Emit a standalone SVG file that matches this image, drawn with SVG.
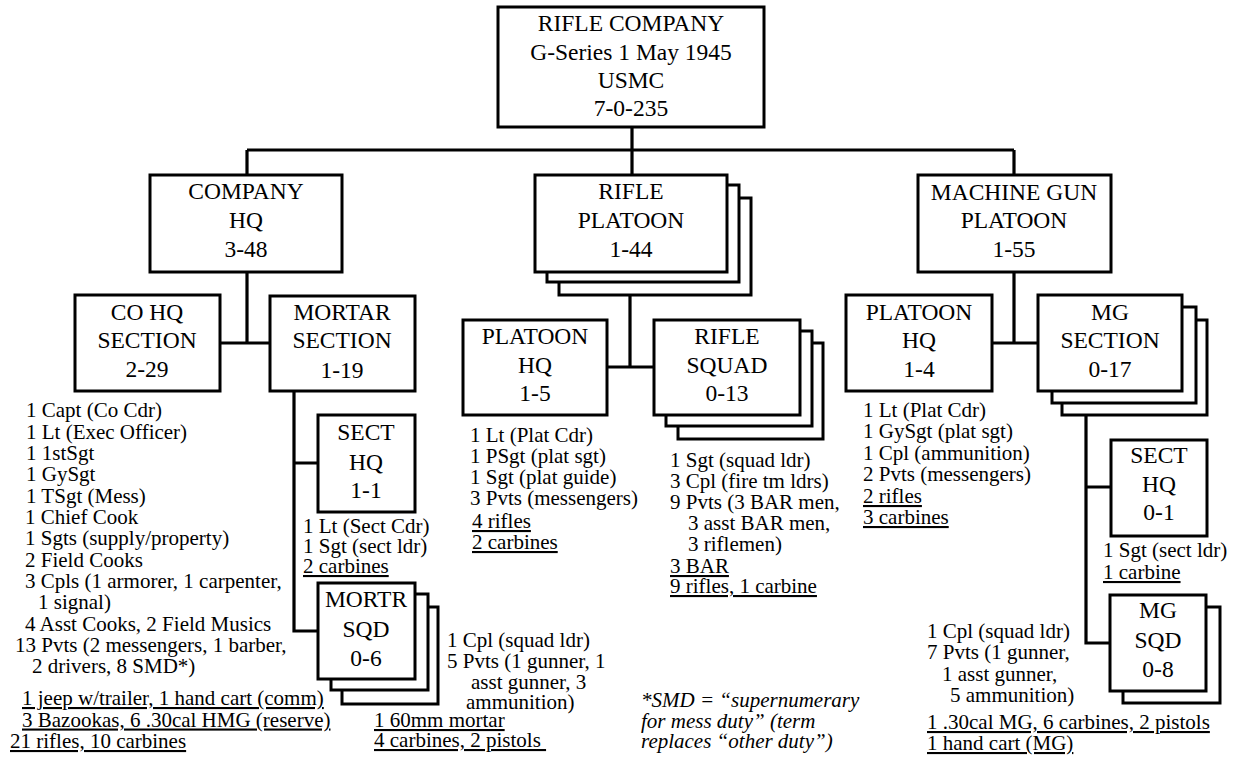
<svg xmlns="http://www.w3.org/2000/svg" width="1238" height="757" viewBox="0 0 1238 757" font-family="Liberation Serif, Times New Roman, DejaVu Serif, serif">
<style>
.box{fill:#fff;stroke:#000;stroke-width:3}
.ln{fill:none;stroke:#000;stroke-width:3.2}
.nt{font-family:'Liberation Serif','Times New Roman','DejaVu Serif',serif;font-size:23.5px;text-anchor:middle;fill:#000}
.lt{font-family:'Liberation Serif','Times New Roman','DejaVu Serif',serif;font-size:21px;fill:#000}
.u{text-decoration:underline}
.it{font-style:italic}
</style>
<rect width="1238" height="757" fill="#fff"/>
<g id="connectors">
<path class="ln" d="M632 127V150M247 150H1014M247 150V175M632 150V175M1014 150V175"/>
<path class="ln" d="M247 272V343M220 343H270"/>
<path class="ln" d="M294 391V631H318M294 463H318"/>
<path class="ln" d="M630 272V367M607 367H654"/>
<path class="ln" d="M1014 272V343M992 343H1038"/>
<path class="ln" d="M1086 415V643H1110M1086 487H1111"/>
</g>
<g id="rifle-company">
<rect class="box" x="498" y="7" width="266" height="120"/>
<text class="nt" x="631" y="31">RIFLE COMPANY</text>
<text class="nt" x="631" y="60">G-Series 1 May 1945</text>
<text class="nt" x="631" y="88">USMC</text>
<text class="nt" x="631" y="116">7-0-235</text>
</g>
<g id="company-hq">
<rect class="box" x="150" y="175" width="192" height="97"/>
<text class="nt" x="246" y="199">COMPANY</text>
<text class="nt" x="246" y="228">HQ</text>
<text class="nt" x="246" y="257">3-48</text>
</g>
<g id="rifle-platoon">
<rect class="box" x="559" y="198" width="192" height="97"/>
<rect class="box" x="547" y="185" width="192" height="97"/>
<rect class="box" x="535" y="175" width="192" height="97"/>
<text class="nt" x="631" y="199">RIFLE</text>
<text class="nt" x="631" y="228">PLATOON</text>
<text class="nt" x="631" y="257">1-44</text>
</g>
<g id="mg-platoon">
<rect class="box" x="918" y="175" width="193" height="97"/>
<text class="nt" x="1014" y="200">MACHINE GUN</text>
<text class="nt" x="1014" y="228">PLATOON</text>
<text class="nt" x="1014" y="257">1-55</text>
</g>
<g id="co-hq-section">
<rect class="box" x="75" y="295" width="145" height="96"/>
<text class="nt" x="147" y="320">CO HQ</text>
<text class="nt" x="147" y="348">SECTION</text>
<text class="nt" x="147" y="377">2-29</text>
</g>
<g id="co-hq-list">
<text class="lt" x="26" y="417">1 Capt (Co Cdr)</text>
<text class="lt" x="26" y="438.5">1 Lt (Exec Officer)</text>
<text class="lt" x="26" y="460">1 1stSgt</text>
<text class="lt" x="26" y="481">1 GySgt</text>
<text class="lt" x="26" y="502.5">1 TSgt (Mess)</text>
<text class="lt" x="25" y="524">1 Chief Cook</text>
<text class="lt" x="25" y="545">1 Sgts (supply/property)</text>
<text class="lt" x="25" y="566.5">2 Field Cooks</text>
<text class="lt" x="25" y="588">3 Cpls (1 armorer, 1 carpenter,</text>
<text class="lt" x="38" y="609">1 signal)</text>
<text class="lt" x="25" y="630.5">4 Asst Cooks, 2 Field Musics</text>
<text class="lt" x="15" y="652">13 Pvts (2 messengers, 1 barber,</text>
<text class="lt" x="32" y="673">2 drivers, 8 SMD*)</text>
<text class="lt u" x="22" y="705">1 jeep w/trailer, 1 hand cart (comm)</text>
<text class="lt u" x="22" y="726.5">3 Bazookas, 6 .30cal HMG (reserve)</text>
<text class="lt u" x="10" y="748">21 rifles, 10 carbines</text>
</g>
<g id="mortar-section">
<rect class="box" x="270" y="296" width="145" height="95"/>
<text class="nt" x="342" y="320">MORTAR</text>
<text class="nt" x="342" y="348">SECTION</text>
<text class="nt" x="342" y="378">1-19</text>
</g>
<g id="mortar-sect-hq">
<rect class="box" x="318" y="415" width="97" height="97"/>
<text class="nt" x="366" y="440">SECT</text>
<text class="nt" x="366" y="470">HQ</text>
<text class="nt" x="366" y="498">1-1</text>
<text class="lt" x="303" y="533">1 Lt (Sect Cdr)</text>
<text class="lt" x="303" y="553">1 Sgt (sect ldr)</text>
<text class="lt u" x="303" y="573">2 carbines</text>
</g>
<g id="mortar-squad">
<rect class="box" x="342" y="607" width="96" height="97"/>
<rect class="box" x="331" y="594" width="97" height="96"/>
<rect class="box" x="318" y="583" width="97" height="96"/>
<text class="nt" x="366" y="607">MORTR</text>
<text class="nt" x="366" y="637">SQD</text>
<text class="nt" x="366" y="666">0-6</text>
<text class="lt" x="447" y="647">1 Cpl (squad ldr)</text>
<text class="lt" x="447" y="668">5 Pvts (1 gunner, 1</text>
<text class="lt" x="471" y="689">asst gunner, 3</text>
<text class="lt" x="466" y="709">ammunition)</text>
<text class="lt u" x="374" y="727">1 60mm mortar</text>
<text class="lt u" x="374" y="747">4 carbines, 2 pistols&#160;</text>
</g>
<g id="platoon-hq">
<rect class="box" x="463" y="320" width="144" height="95"/>
<text class="nt" x="535" y="344">PLATOON</text>
<text class="nt" x="535" y="373">HQ</text>
<text class="nt" x="535" y="401">1-5</text>
<text class="lt" x="470" y="442">1 Lt (Plat Cdr)</text>
<text class="lt" x="470" y="463">1 PSgt (plat sgt)</text>
<text class="lt" x="470" y="484">1 Sgt (plat guide)</text>
<text class="lt" x="470" y="505">3 Pvts (messengers)</text>
<text class="lt u" x="472" y="528">4 rifles</text>
<text class="lt u" x="472" y="549">2 carbines</text>
</g>
<g id="rifle-squad">
<rect class="box" x="678" y="343" width="145" height="96"/>
<rect class="box" x="666" y="331" width="146" height="95"/>
<rect class="box" x="654" y="320" width="146" height="95"/>
<text class="nt" x="727" y="344">RIFLE</text>
<text class="nt" x="727" y="373">SQUAD</text>
<text class="nt" x="727" y="401">0-13</text>
<text class="lt" x="670" y="467">1 Sgt (squad ldr)</text>
<text class="lt" x="670" y="488">3 Cpl (fire tm ldrs)</text>
<text class="lt" x="670" y="509">9 Pvts (3 BAR men,</text>
<text class="lt" x="688" y="530">3 asst BAR men,</text>
<text class="lt" x="688" y="551">3 riflemen)</text>
<text class="lt u" x="670" y="573">3 BAR</text>
<text class="lt u" x="670" y="593">9 rifles, 1 carbine</text>
</g>
<g id="mg-platoon-hq">
<rect class="box" x="846" y="295" width="146" height="96"/>
<text class="nt" x="919" y="320">PLATOON</text>
<text class="nt" x="919" y="348">HQ</text>
<text class="nt" x="919" y="377">1-4</text>
<text class="lt" x="863" y="417">1 Lt (Plat Cdr)</text>
<text class="lt" x="863" y="438">1 GySgt (plat sgt)</text>
<text class="lt" x="863" y="460">1 Cpl (ammunition)</text>
<text class="lt" x="863" y="481">2 Pvts (messengers)</text>
<text class="lt u" x="863" y="503">2 rifles</text>
<text class="lt u" x="863" y="524">3 carbines</text>
</g>
<g id="mg-section">
<rect class="box" x="1062" y="320" width="145" height="95"/>
<rect class="box" x="1052" y="307" width="144" height="96"/>
<rect class="box" x="1038" y="295" width="144" height="96"/>
<text class="nt" x="1110" y="320">MG</text>
<text class="nt" x="1110" y="348">SECTION</text>
<text class="nt" x="1110" y="377">0-17</text>
</g>
<g id="mg-sect-hq">
<rect class="box" x="1111" y="440" width="96" height="96"/>
<text class="nt" x="1159" y="463">SECT</text>
<text class="nt" x="1159" y="492">HQ</text>
<text class="nt" x="1159" y="520">0-1</text>
<text class="lt" x="1103" y="557">1 Sgt (sect ldr)</text>
<text class="lt u" x="1103" y="579">1 carbine</text>
</g>
<g id="mg-squad">
<rect class="box" x="1123" y="607" width="97" height="96"/>
<rect class="box" x="1110" y="595" width="96" height="96"/>
<text class="nt" x="1158" y="618">MG</text>
<text class="nt" x="1158" y="648">SQD</text>
<text class="nt" x="1158" y="677">0-8</text>
<text class="lt" x="927" y="638">1 Cpl (squad ldr)</text>
<text class="lt" x="927" y="659">7 Pvts (1 gunner,</text>
<text class="lt" x="942" y="681">1 asst gunner,</text>
<text class="lt" x="950" y="702">5 ammunition)</text>
<text class="lt u" x="927" y="729">1 .30cal MG, 6 carbines, 2 pistols</text>
<text class="lt u" x="927" y="750">1 hand cart (MG)</text>
</g>
<g id="footnote">
<text class="lt it" x="641" y="707">*SMD = “supernumerary</text>
<text class="lt it" x="641" y="728">for mess duty” (term</text>
<text class="lt it" x="641" y="748">replaces “other duty”)</text>
</g>
</svg>
